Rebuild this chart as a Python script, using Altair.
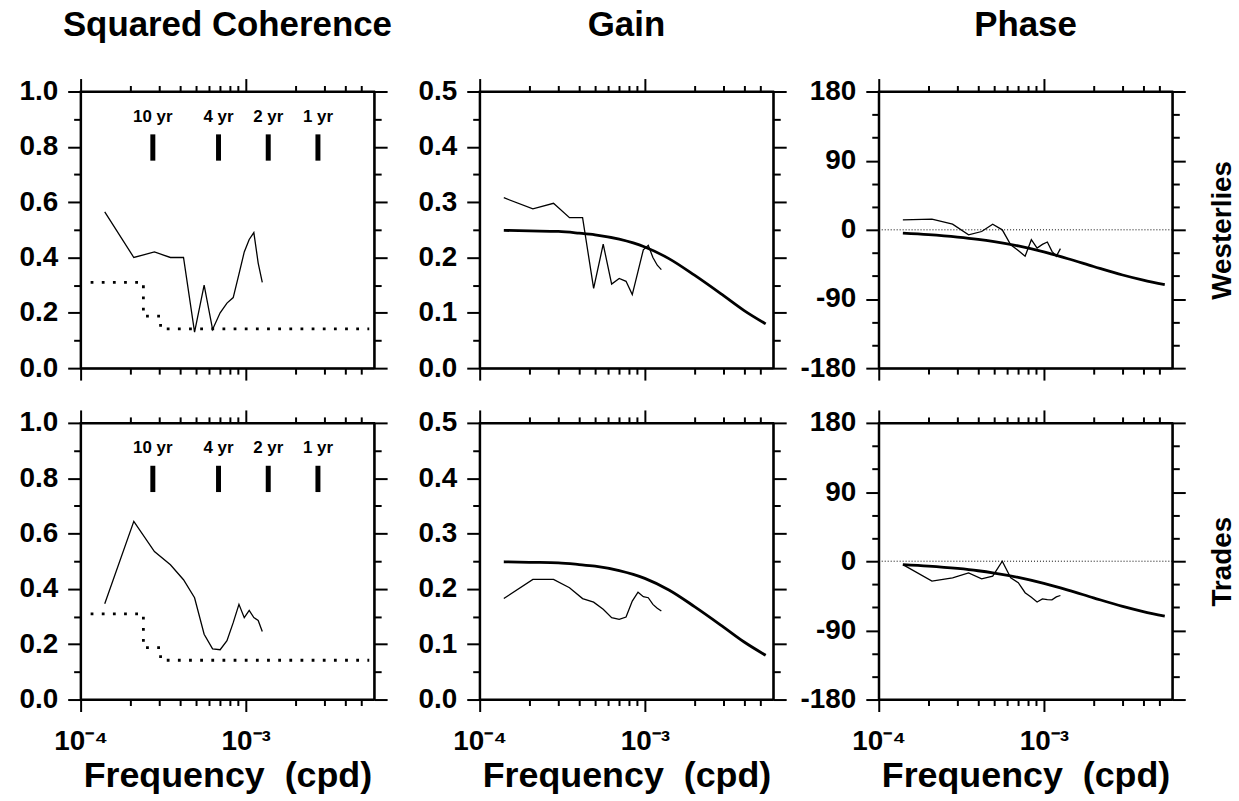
import altair as alt
import pandas as pd

FONT = "Liberation Sans"

# ---------------- data ----------------
FREQ = [1.40e-4, 2.10e-4, 2.80e-4, 3.50e-4, 4.20e-4, 4.90e-4, 5.60e-4, 6.30e-4,
        7.00e-4, 7.70e-4, 8.40e-4, 9.10e-4, 9.80e-4, 1.05e-3, 1.12e-3, 1.19e-3, 1.26e-3]

COH_WEST = [0.565, 0.40, 0.42, 0.40, 0.40, 0.13, 0.30, 0.14, 0.20, 0.235, 0.255,
            0.34, 0.42, 0.465, 0.49, 0.38, 0.31]
COH_TRADE = [0.346, 0.644, 0.535, 0.487, 0.433, 0.368, 0.236, 0.183, 0.180, 0.213,
             0.278, 0.344, 0.296, 0.322, 0.296, 0.286, 0.246]
GAIN_WEST = [0.308, 0.288, 0.298, 0.272, 0.272, 0.144, 0.224, 0.152, 0.162, 0.157,
             0.133, 0.175, 0.214, 0.222, 0.200, 0.186, 0.178]
GAIN_TRADE = [0.1825, 0.217, 0.217, 0.202, 0.1825, 0.176, 0.163, 0.148, 0.145, 0.149,
              0.178, 0.194, 0.186, 0.184, 0.172, 0.165, 0.160]
PHASE_WEST = [12.9, 13.8, 7.3, -6.5, -2.2, 7.3, 0.0, -19.4, -27.0, -34.4, -12.9,
              -23.7, -19.0, -15.9, -28.0, -34.4, -24.5]
PHASE_TRADE = [-4.4, -25.9, -21.6, -15.2, -23.0, -19.4, 0.0, -21.6, -28.0, -41.0,
               -47.0, -53.0, -49.0, -50.0, -50.3, -46.5, -44.6]

MODEL_FREQ = [1.4e-4, 2e-4, 3e-4, 4e-4, 5e-4, 7e-4, 1e-3, 1.4e-3, 2e-3, 3e-3, 4e-3, 5.4e-3]
MODEL_GAIN = [0.249, 0.248, 0.247, 0.244, 0.241, 0.233, 0.219, 0.198, 0.168, 0.131, 0.104, 0.080]
MODEL_PHASE = [-4.4, -6.3, -9.4, -12.4, -15.4, -21.0, -28.8, -37.6, -47.7, -58.8, -65.5, -71.4]

SIG_FREQ = [1.15e-4, 2.4e-4, 2.4e-4, 3.05e-4, 3.05e-4, 5.6e-3]
SIG_LEVEL = [0.31, 0.31, 0.188, 0.188, 0.142, 0.142]

PERIOD_LABELS = ["10 yr", "4 yr", "2 yr", "1 yr"]
PERIOD_FREQ = [2.738e-4, 6.845e-4, 1.369e-3, 2.738e-3]
BAR_LOW, BAR_HIGH, LABEL_LEVEL = 0.75, 0.845, 0.908

XDOM = [1e-4, 6e-3]
X_MAJOR = [1e-4, 1e-3]
X_MINOR = [2e-4, 3e-4, 4e-4, 5e-4, 6e-4, 7e-4, 8e-4, 9e-4, 2e-3, 3e-3, 4e-3, 5e-3]

COH_DOM, COH_MAJ, COH_MIN = [0, 1], [0, 0.2, 0.4, 0.6, 0.8, 1.0], [0.1, 0.3, 0.5, 0.7, 0.9]
GAIN_DOM, GAIN_MAJ, GAIN_MIN = [0, 0.5], [0, 0.1, 0.2, 0.3, 0.4, 0.5], [0.05, 0.15, 0.25, 0.35, 0.45]
PH_DOM, PH_MAJ, PH_MIN = [-180, 180], [-180, -90, 0, 90, 180], [-150, -120, -60, -30, 30, 60, 120, 150]

W, H = 295, 278
MAJ_T, MIN_T = 13, 7


def ax(**kw):
    d = dict(grid=False, tickColor="black", domainColor="black", tickWidth=2,
             domainWidth=2, labelColor="black", titleColor="black")
    d.update(kw)
    return alt.Axis(**d)


def panel(kind, row):
    bottom = row == 1
    if kind == "coh":
        ydom, ymaj, ymin = COH_DOM, COH_MAJ, COH_MIN
        yexpr = "format(datum.value, '.1f')"
    elif kind == "gain":
        ydom, ymaj, ymin = GAIN_DOM, GAIN_MAJ, GAIN_MIN
        yexpr = "format(datum.value, '.1f')"
    else:
        ydom, ymaj, ymin = PH_DOM, PH_MAJ, PH_MIN
        yexpr = "'' + datum.value"
    xs = alt.Scale(type="log", domain=XDOM, nice=False)
    ys = alt.Scale(domain=ydom, nice=False, zero=False)
    dummy = pd.DataFrame({"f": [1e-3], "v": [ydom[0]]})

    def axl(xax, yax):
        return alt.Chart(dummy).mark_point(opacity=0).encode(
            x=alt.X("f:Q", scale=xs, axis=xax),
            y=alt.Y("v:Q", scale=ys, axis=yax))

    # bottom / left major
    if bottom:
        xb = ax(orient="bottom", values=X_MAJOR, tickSize=12, labels=True,
                labelExpr="datum.value < 0.0005 ? '10\u207b\u2074' : '10\u207b\u00b3'",
                labelFont=FONT, labelFontSize=28, labelFontWeight="bold",
                labelPadding=16, labelFlush=False, labelOverlap=False,
                title="Frequency\u00a0\u00a0(cpd)", titleFont=FONT, titleFontSize=36,
                titleFontWeight="bold", titlePadding=3)
    else:
        xb = ax(orient="bottom", values=X_MAJOR, tickSize=12, labels=False, title=None)
    yl = ax(orient="left", values=ymaj, tickSize=MAJ_T, labels=True, labelExpr=yexpr,
            labelFont=FONT, labelFontSize=28, labelFontWeight="bold", labelPadding=10,
            labelOverlap=False, labelFlush=False, title=None)
    layers = [axl(xb, yl)]
    # minor bottom / left
    layers.append(axl(
        ax(orient="bottom", values=X_MINOR, tickSize=6, labels=False, domain=False, title=None),
        ax(orient="left", values=ymin, tickSize=MIN_T, labels=False, domain=False, title=None)))
    # top / right major
    if kind == "phase":
        yr = ax(orient="right", values=ymaj, tickSize=MAJ_T, labels=False,
                title="Westerlies" if row == 0 else "Trades", titleAngle=270,
                titleBaseline="top", titleFont=FONT, titleFontSize=28,
                titleFontWeight="bold", titlePadding=22)
    else:
        yr = ax(orient="right", values=ymaj, tickSize=MAJ_T, labels=False, title=None)
    layers.append(axl(
        ax(orient="top", values=X_MAJOR, tickSize=MAJ_T, labels=False, title=None), yr))
    layers.append(axl(
        ax(orient="top", values=X_MINOR, tickSize=6, labels=False, domain=False, title=None),
        ax(orient="right", values=ymin, tickSize=MIN_T, labels=False, domain=False, title=None)))

    X = lambda: alt.X("f:Q", scale=xs, axis=None)
    Y = lambda: alt.Y("v:Q", scale=ys, axis=None)

    if kind == "coh":
        vals = COH_WEST if row == 0 else COH_TRADE
        sig = pd.DataFrame({"f": SIG_FREQ, "v": SIG_LEVEL, "i": list(range(len(SIG_FREQ)))})
        layers.append(alt.Chart(sig).mark_line(color="black", strokeWidth=2.8,
                                               strokeDash=[2.8, 8.4]).encode(
            x=X(), y=Y(), order="i:Q"))
        per = pd.DataFrame({"f": PERIOD_FREQ, "lab": PERIOD_LABELS,
                            "lo": [BAR_LOW] * 4, "hi": [BAR_HIGH] * 4,
                            "ly": [LABEL_LEVEL] * 4})
        layers.append(alt.Chart(per).mark_rule(color="black", strokeWidth=5).encode(
            x=X(), y=alt.Y("lo:Q", scale=ys, axis=None), y2="hi:Q"))
        layers.append(alt.Chart(per).mark_text(font=FONT, fontSize=17, fontWeight="bold",
                                               baseline="middle", color="black").encode(
            x=X(), y=alt.Y("ly:Q", scale=ys, axis=None), text="lab:N"))
    elif kind == "gain":
        vals = GAIN_WEST if row == 0 else GAIN_TRADE
        mdl = pd.DataFrame({"f": MODEL_FREQ, "v": MODEL_GAIN})
        layers.append(alt.Chart(mdl).mark_line(color="black", strokeWidth=2.8,
                                               interpolate="monotone").encode(x=X(), y=Y()))
    else:
        vals = PHASE_WEST if row == 0 else PHASE_TRADE
        zero = pd.DataFrame({"v": [0]})
        layers.append(alt.Chart(zero).mark_rule(color="black", strokeWidth=1,
                                                strokeDash=[1, 2]).encode(y=Y()))
        mdl = pd.DataFrame({"f": MODEL_FREQ, "v": MODEL_PHASE})
        layers.append(alt.Chart(mdl).mark_line(color="black", strokeWidth=2.8,
                                               interpolate="monotone").encode(x=X(), y=Y()))

    obs = pd.DataFrame({"f": FREQ, "v": vals})
    layers.append(alt.Chart(obs).mark_line(color="black", strokeWidth=1.3).encode(x=X(), y=Y()))

    ch = alt.layer(*layers).resolve_axis(x="independent", y="independent").properties(
        width=W, height=H)
    if row == 0:
        t = {"coh": "Squared Coherence", "gain": "Gain", "phase": "Phase"}[kind]
        ch = ch.properties(title=alt.TitleParams(
            text=t, font=FONT, fontSize=35, fontWeight="bold", color="black",
            anchor="middle", baseline="alphabetic", offset=7))
    return ch


panels = [panel(k, r) for r in (0, 1) for k in ("coh", "gain", "phase")]

chart = alt.concat(*panels, columns=3).properties(
    spacing={"row": 55, "column": 106}, bounds="flush",
    padding={"left": 18, "top": 5, "right": 2, "bottom": 2},
    background="white",
).configure_view(stroke="black", strokeWidth=2)

chart.save("out.html", embed_options={"renderer": "svg", "actions": False})
